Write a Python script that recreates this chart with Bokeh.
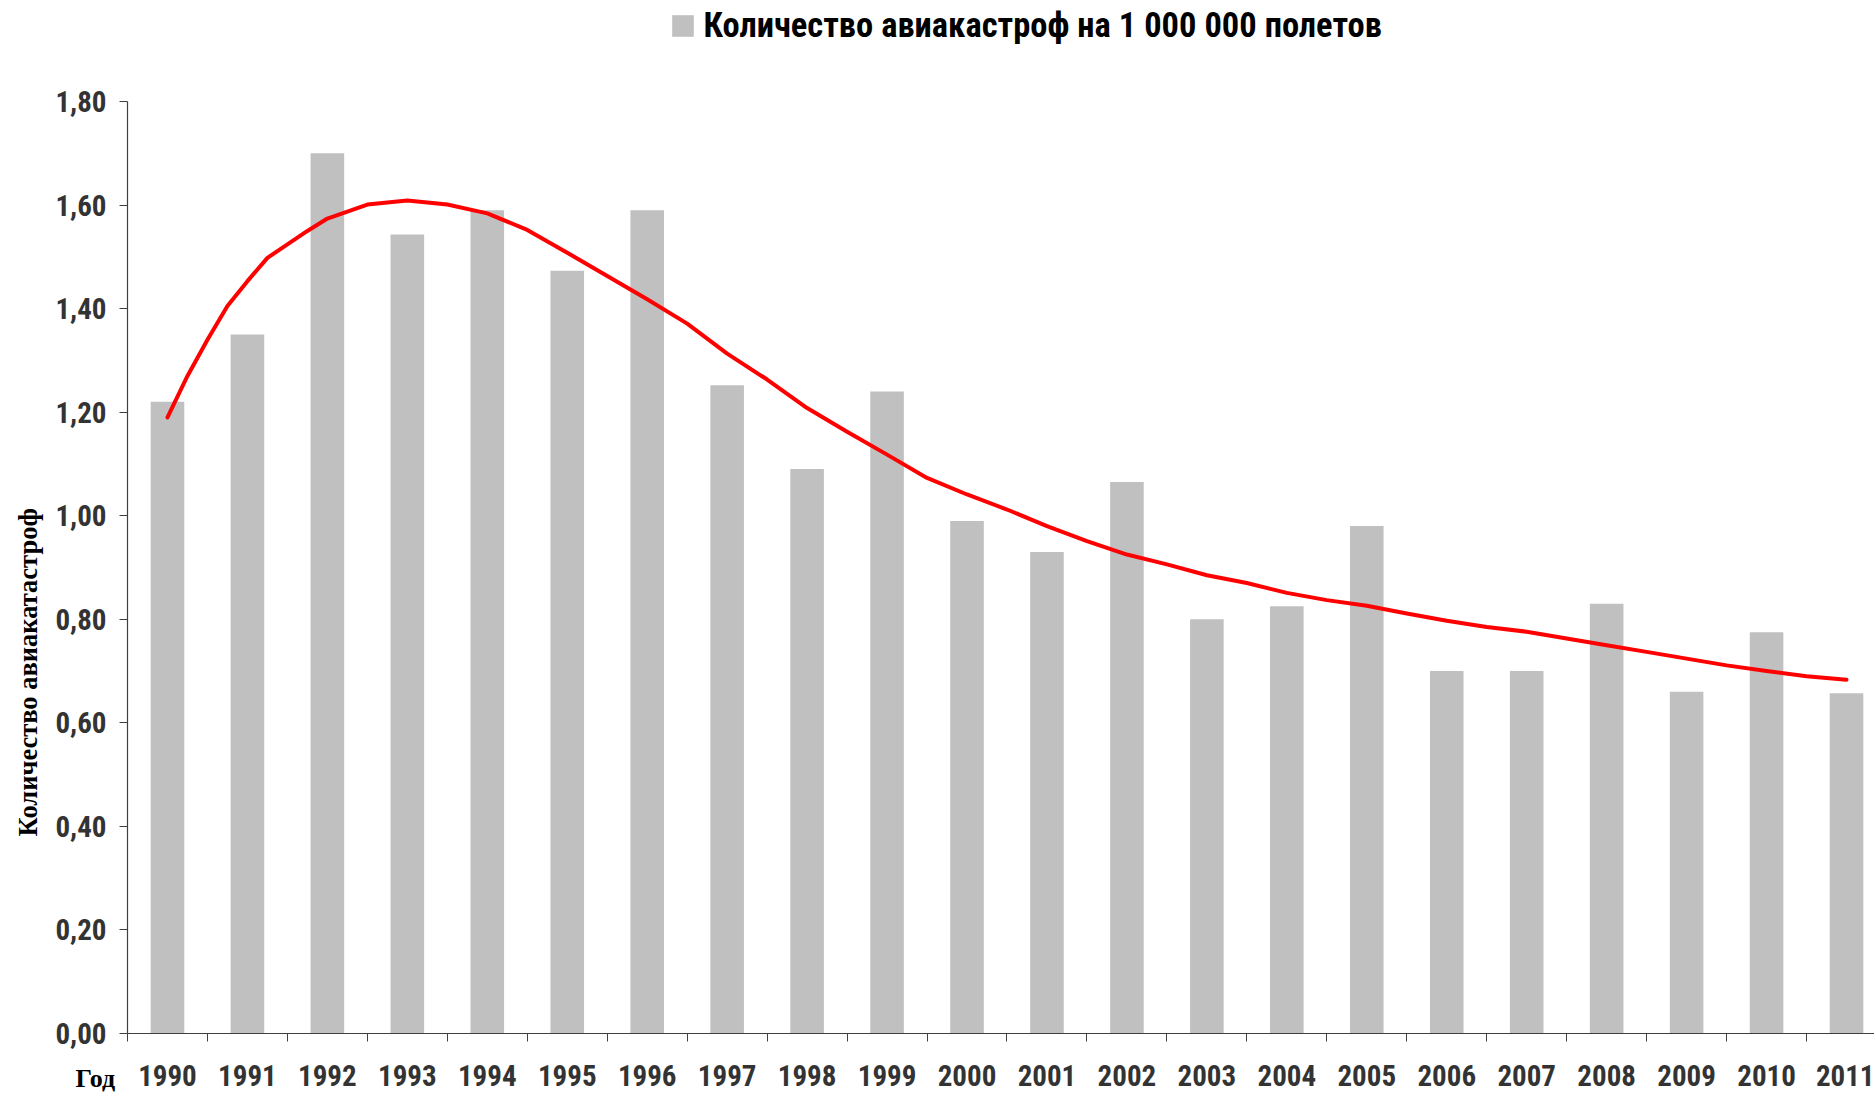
from bokeh.plotting import figure
from bokeh.models import (Range1d, FixedTicker, CustomJSTickFormatter, Legend,
                          LegendItem, Title)
from bokeh.embed import file_html
from bokeh.resources import INLINE

# ---------------- data ----------------
years = [1990, 1991, 1992, 1993, 1994, 1995, 1996, 1997, 1998, 1999, 2000,
         2001, 2002, 2003, 2004, 2005, 2006, 2007, 2008, 2009, 2010, 2011]
crash_rate = [1.22, 1.35, 1.70, 1.543, 1.59, 1.473, 1.59, 1.252, 1.09, 1.24, 0.99,
              0.93, 1.065, 0.80, 0.825, 0.98, 0.70, 0.70, 0.83, 0.66, 0.775, 0.657]

trend_x = [1990, 1990.25, 1990.5, 1990.75, 1991, 1991.25, 1991.5, 1991.75, 1992,
           1992.5, 1993, 1993.5, 1994, 1994.5, 1995, 1995.5, 1996, 1996.5, 1997,
           1997.5, 1998, 1998.5, 1999, 1999.5, 2000, 2000.5, 2001, 2001.5, 2002,
           2002.5, 2003, 2003.5, 2004, 2004.5, 2005, 2005.5, 2006, 2006.5, 2007,
           2007.5, 2008, 2008.5, 2009, 2009.5, 2010, 2010.5, 2011]
trend_y = [1.19, 1.27, 1.34, 1.405, 1.453, 1.498, 1.524, 1.55, 1.574,
           1.601, 1.609, 1.601, 1.584, 1.552, 1.508, 1.463, 1.418, 1.371, 1.313,
           1.263, 1.208, 1.162, 1.118, 1.073, 1.041, 1.012, 0.980, 0.951, 0.925,
           0.906, 0.885, 0.870, 0.851, 0.837, 0.826, 0.811, 0.797, 0.785, 0.776,
           0.763, 0.750, 0.737, 0.724, 0.711, 0.700, 0.690, 0.683]

y_ticks = [0.0, 0.2, 0.4, 0.6, 0.8, 1.0, 1.2, 1.4, 1.6, 1.8]
legend_label = "Количество авиакастроф на 1 000 000 полетов"
y_title = "Количество авиакатастроф"
x_title = "Год"

# ---------------- layout ----------------
W, H = 1874, 1093
LEFT, BOTTOM = 126, 60
AXIS_TOP_PX = 101            # distance from top of canvas to the 1,80 tick
frame_w = W - LEFT
frame_h = H - BOTTOM
cat_px = 80.0
y_end = y_ticks[-1] * frame_h / (frame_h - AXIS_TOP_PX)

NARROW = "Roboto Condensed, Liberation Sans Narrow, Liberation Sans"
SERIF = "Liberation Serif"
AXIS_COLOR = "#404040"
LABEL_COLOR = "#333333"

p = figure(width=W, height=H, output_backend="svg", toolbar_location=None,
           x_range=Range1d(years[0] - 0.5, years[0] - 0.5 + frame_w / cat_px),
           y_range=Range1d(y_ticks[0], y_end),
           min_border_left=LEFT, min_border_right=0, min_border_top=0,
           min_border_bottom=BOTTOM)
p.outline_line_color = None
p.xgrid.visible = False
p.ygrid.visible = False
p.background_fill_color = "white"
p.border_fill_color = "white"

bars = p.vbar(x=years, top=crash_rate, width=0.42, fill_color="#C0C0C0",
              line_color=None)
p.line(trend_x, trend_y, line_color="#FF0000", line_width=4,
       line_join="round", line_cap="round")

# x axis
xa = p.xaxis[0]
xa.ticker = FixedTicker(ticks=years,
                        minor_ticks=[y - 0.5 for y in years] + [years[-1] + 0.5])
xa.formatter = CustomJSTickFormatter(code="return tick.toFixed(0);")
xa.major_tick_out = 0
xa.major_tick_in = 0
xa.minor_tick_out = 8
xa.minor_tick_in = 0
xa.minor_tick_line_color = AXIS_COLOR
xa.axis_line_color = AXIS_COLOR
xa.axis_line_width = 1.2
xa.major_label_standoff = 23
xa.major_label_text_font = NARROW
xa.major_label_text_font_size = "29px"
xa.major_label_text_font_style = "bold"
xa.major_label_text_color = LABEL_COLOR

# y axis
ya = p.yaxis[0]
ya.ticker = FixedTicker(ticks=y_ticks)
ya.bounds = (y_ticks[0], y_ticks[-1])
ya.formatter = CustomJSTickFormatter(code="return tick.toFixed(2).replace('.', ',');")
ya.major_tick_out = 8
ya.major_tick_in = 0
ya.minor_tick_out = 0
ya.minor_tick_in = 0
ya.major_tick_line_color = AXIS_COLOR
ya.axis_line_color = AXIS_COLOR
ya.axis_line_width = 1.2
ya.major_label_standoff = 13
ya.major_label_text_font = NARROW
ya.major_label_text_font_size = "29px"
ya.major_label_text_font_style = "bold"
ya.major_label_text_color = LABEL_COLOR

# y axis title (side panel, shifted down along the axis)
p.add_layout(Title(text=y_title, align="left", offset=197, standoff=20,
                   text_font=SERIF, text_font_size="26.5px",
                   text_font_style="bold", text_color="black"), "left")

# "Год" on the row of the year labels
p.add_layout(Title(text=x_title, align="left", vertical_align="top",
                   offset=-52, standoff=-50,
                   text_font=SERIF, text_font_size="26px",
                   text_font_style="bold", text_color="black"), "below")

# legend at the top of the (extended) frame
legend = Legend(items=[LegendItem(label=legend_label, renderers=[bars])],
                location=(541.5, 988), orientation="horizontal",
                glyph_width=27, glyph_height=27, label_standoff=8,
                padding=0, margin=0, border_line_color=None,
                background_fill_alpha=0,
                label_text_font=NARROW, label_text_font_size="34.5px",
                label_text_font_style="bold", label_text_color="black")
p.add_layout(legend)

open("out.html", "w").write(file_html(p, INLINE))
